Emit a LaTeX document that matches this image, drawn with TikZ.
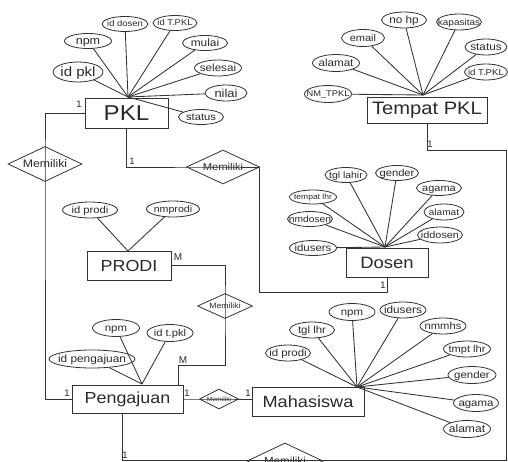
\documentclass[tikz,border=0pt]{standalone}
\usepackage{fontspec}
\usepackage{graphicx}
\setmainfont{Liberation Sans}
\usetikzlibrary{shapes.geometric}
\definecolor{lc}{HTML}{333333}
\definecolor{tc}{HTML}{2A2A2A}
\newcommand\attxt[1]{\makebox[0pt]{\raisebox{-0.35em}[0pt][0pt]{\scalebox{1.12}[1]{#1}}}}
\newcommand\entxt[1]{\scalebox{1.12}[1]{#1}}
\tikzset{
  fs/.style={font=\fontsize{#1}{#1}\selectfont},
  ent/.style={draw=lc, line width=0.9pt, inner sep=0pt, text=tc},
  attr/.style={ellipse, draw=lc, line width=0.8pt, inner sep=0pt, text=tc},
  rel/.style={diamond, draw=lc, line width=0.8pt, inner sep=0pt, aspect=2, text=tc},
  conn/.style={draw=lc, line width=0.85pt},
  lab/.style={inner sep=0pt, text=tc, font=\fontsize{9.5}{9.5}\selectfont}
}
\begin{document}
\begin{tikzpicture}[x=1pt,y=-1pt]
\useasboundingbox (0,0) rectangle (508,462);
\clip (0,0) rectangle (508,462);
\fill[white] (0,0) rectangle (508,462);

% entities
\node[ent, minimum width=83pt, minimum height=30pt, fs=21.5] (pkl) at (126.5,113) {\entxt{PKL}};
\node[ent, minimum width=120pt, minimum height=26pt, fs=18] (tpkl) at (427,110) {\entxt{Tempat PKL}};
\node[ent, minimum width=82pt, minimum height=29pt, fs=16.5] (dosen) at (387,262.5) {\entxt{Dosen}};
\node[ent, minimum width=84pt, minimum height=29pt, fs=16] (prodi) at (129,265.5) {\entxt{PRODI}};
\node[ent, minimum width=111pt, minimum height=28pt, fs=16] (peng) at (127.5,399) {\entxt{Pengajuan}};
\node[ent, minimum width=112pt, minimum height=29pt, fs=16.2] (mhs) at (308,401.5) {\entxt{Mahasiswa}};

% hubs
\coordinate (hpkl) at (128,97);
\coordinate (htpkl) at (423,95);
\coordinate (hdos) at (385,247);
\coordinate (hprodi) at (128,251);
\coordinate (hpeng) at (142,384);
\coordinate (hmhs) at (357,387);

% PKL attributes
\node[attr, minimum width=50pt, minimum height=20pt, fs=13.4] (p1) at (78,72) {\attxt{id pkl}};
\node[attr, minimum width=47pt, minimum height=15pt, fs=11.2] (p2) at (88,41) {\attxt{npm}};
\node[attr, minimum width=46pt, minimum height=15pt, fs=8.4] (p3) at (125,24) {\attxt{id dosen}};
\node[attr, minimum width=44pt, minimum height=15pt, fs=8.4] (p4) at (175,23) {\attxt{id T.PKL}};
\node[attr, minimum width=45pt, minimum height=15pt, fs=10.6] (p5) at (205,43) {\attxt{mulai}};
\node[attr, minimum width=47pt, minimum height=16pt, fs=10.4] (p6) at (218,68) {\attxt{selesai}};
\node[attr, minimum width=42pt, minimum height=16pt, fs=11.5] (p7) at (226,93) {\attxt{nilai}};
\node[attr, minimum width=45pt, minimum height=15pt, fs=10] (p8) at (201,117) {\attxt{status}};
\foreach \n in {p1,p2,p3,p4,p5,p6,p7,p8} \draw[conn] (hpkl) -- (\n);

% Tempat PKL attributes
\node[attr, minimum width=47pt, minimum height=17pt, fs=8.3] (t1) at (328,94) {\attxt{NM\_TPKL}};
\node[attr, minimum width=47pt, minimum height=17pt, fs=10.4] (t2) at (336,63) {\attxt{alamat}};
\node[attr, minimum width=43pt, minimum height=17pt, fs=9.8] (t3) at (363,38) {\attxt{email}};
\node[attr, minimum width=45pt, minimum height=16pt, fs=10.5] (t4) at (404,20) {\attxt{no hp}};
\node[attr, minimum width=45pt, minimum height=16pt, fs=8.9] (t5) at (459,22) {\attxt{kapasitas}};
\node[attr, minimum width=42pt, minimum height=16pt, fs=10.5] (t6) at (486,47) {\attxt{status}};
\node[attr, minimum width=43pt, minimum height=16pt, fs=8.6] (t7) at (486,72) {\attxt{id T.PKL}};
\foreach \n in {t1,t2,t3,t4,t5,t6,t7} \draw[conn] (htpkl) -- (\n);

% Dosen attributes
\node[attr, minimum width=42pt, minimum height=15pt, fs=9.3] (d1) at (346,175) {\attxt{tgl lahir}};
\node[attr, minimum width=43pt, minimum height=15pt, fs=10] (d2) at (397,173) {\attxt{gender}};
\node[attr, minimum width=45pt, minimum height=15pt, fs=9.8] (d3) at (439,188) {\attxt{agama}};
\node[attr, minimum width=47pt, minimum height=14pt, fs=7.6] (d4) at (313,197) {\attxt{tempat lhr}};
\node[attr, minimum width=40pt, minimum height=16pt, fs=9] (d5) at (444,212) {\attxt{alamat}};
\node[attr, minimum width=45pt, minimum height=15pt, fs=9.2] (d6) at (310,219) {\attxt{nmdosen}};
\node[attr, minimum width=45pt, minimum height=16pt, fs=9.7] (d7) at (440,235) {\attxt{iddosen}};
\node[attr, minimum width=47pt, minimum height=15pt, fs=10.2] (d8) at (313,248) {\attxt{idusers}};
\foreach \n in {d1,d2,d3,d4,d5,d6,d7,d8} \draw[conn] (hdos) -- (\n);

% PRODI attributes
\node[attr, minimum width=55pt, minimum height=16pt, fs=10] (r1) at (90,210) {\attxt{id prodi}};
\node[attr, minimum width=53pt, minimum height=16pt, fs=9.5] (r2) at (173,209) {\attxt{nmprodi}};
\foreach \n in {r1,r2} \draw[conn] (hprodi) -- (\n);

% Pengajuan attributes
\node[attr, minimum width=47pt, minimum height=17pt, fs=10.2] (g1) at (116,328) {\attxt{npm}};
\node[attr, minimum width=46pt, minimum height=17pt, fs=10] (g2) at (170,333) {\attxt{id t.pkl}};
\node[attr, minimum width=86pt, minimum height=18pt, fs=10.6] (g3) at (92,359) {\attxt{id pengajuan}};
\foreach \n in {g1,g2,g3} \draw[conn] (hpeng) -- (\n);

% Mahasiswa attributes
\node[attr, minimum width=45pt, minimum height=16pt, fs=10.2] (s1) at (288,353) {\attxt{id prodi}};
\node[attr, minimum width=45pt, minimum height=16pt, fs=10.2] (s2) at (312,330) {\attxt{tgl lhr}};
\node[attr, minimum width=46pt, minimum height=17pt, fs=10.2] (s3) at (352,312) {\attxt{npm}};
\node[attr, minimum width=46pt, minimum height=16pt, fs=10.5] (s4) at (403,310) {\attxt{idusers}};
\node[attr, minimum width=46pt, minimum height=16pt, fs=10] (s5) at (443,326) {\attxt{nmmhs}};
\node[attr, minimum width=47pt, minimum height=16pt, fs=9.9] (s6) at (467,349) {\attxt{tmpt lhr}};
\node[attr, minimum width=48pt, minimum height=17pt, fs=10.2] (s7) at (472,375) {\attxt{gender}};
\node[attr, minimum width=45pt, minimum height=17pt, fs=10.2] (s8) at (476,403) {\attxt{agama}};
\node[attr, minimum width=47pt, minimum height=17pt, fs=10.8] (s9) at (467,429) {\attxt{alamat}};
\foreach \n in {s1,s2,s3,s4,s5,s6,s7,s8,s9} \draw[conn] (hmhs) -- (\n);

% relationships
\node[rel, minimum width=74pt, minimum height=35pt, fs=11] (m1) at (45,164) {\attxt{Memiliki}};
\node[rel, minimum width=73pt, minimum height=34pt, fs=10] (m2) at (223,167) {\attxt{Memiliki}};
\node[rel, minimum width=55pt, minimum height=25pt, fs=7.7] (m3) at (225,306) {\attxt{Memiliki}};
\node[rel, minimum width=39pt, minimum height=20pt, fs=6] (m4) at (219,399) {\attxt{Memiliki}};
\node[rel, minimum width=76pt, minimum height=36pt, fs=10.3] (m5) at (285,461) {\attxt{Memiliki}};

\coordinate (c1) at (259,292);
\coordinate (c2) at (178,365);
\coordinate (c3) at (506,150);
\coordinate (c4) at (506,460);
\coordinate (pb) at (122,413);

% connectors
\draw[conn] (pkl.west) -| (m1.center) |- (peng.west);
\draw[conn] (pkl.south) |- (m2.center) -| (c1) -| (dosen.south);
\draw[conn] (tpkl.south) |- (c3) -- (c4) -| (pb);
\draw[conn] (prodi.east) -| (m3.center) |- (c2) -- (c2 |- peng.north);
\draw[conn] (peng.east) -- (m4.center) -- (m4.center -| mhs.west);

% cardinality labels
\node[lab] (l1) at (79,104) {1};
\node[lab] (l2) at (132,161) {1};
\node[lab] (l3) at (383,285) {1};
\node[lab] (l4) at (430,144) {1};
\node[lab, fs=10] (l5) at (178,257) {M};
\node[lab, fs=10] (l6) at (183,360) {M};
\node[lab] (l7) at (67,393) {1};
\node[lab] (l8) at (187,393) {1};
\node[lab] (l9) at (248,393) {1};
\node[lab] (l10) at (125,455) {1};
\end{tikzpicture}
\end{document}
